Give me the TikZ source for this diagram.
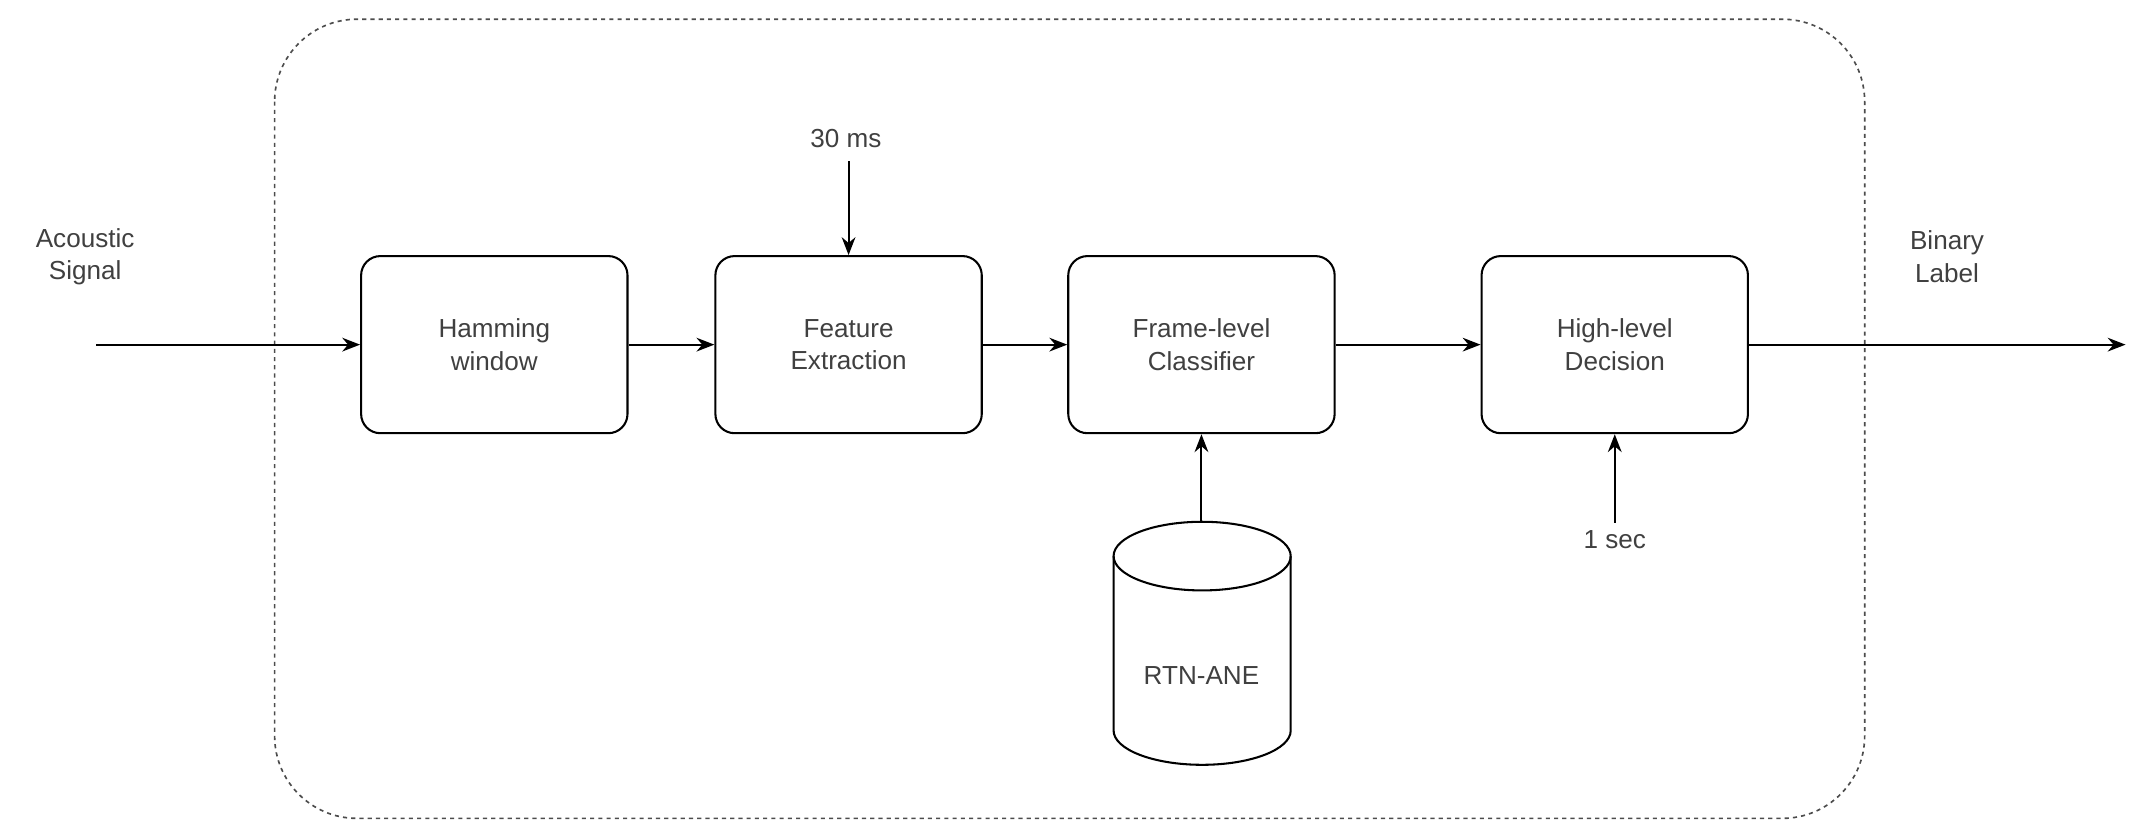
\documentclass[tikz,border=0pt]{standalone}
\usepackage{fontspec}
\setmainfont{Liberation Sans}
\usetikzlibrary{arrows.meta}
\begin{document}
\begin{tikzpicture}[x=1pt,y=-1pt,
  box/.style={draw,rounded corners=14pt,line width=1.5pt,minimum width=194pt,minimum height=129pt,align=center,text=black!75,font=\fontsize{19}{24}\selectfont},
  lbl/.style={align=center,text=black!75,font=\fontsize{19}{24}\selectfont},
  arr/.style={-{Stealth[length=13pt,width=10pt]},line width=1.5pt}]
\useasboundingbox (0,0) rectangle (1568,609);
\draw[dashed,line width=1.2pt,black!70,rounded corners=60pt] (200,14) rectangle (1358,596);
\node[box] (ham) at (360,251) {Hamming\\window};
\node[box] (fe) at (618,251) {Feature\\Extraction};
\node[box] (fl) at (875,251) {Frame-level\\Classifier};
\node[box] (hl) at (1176,251) {High-level\\Decision};
\coordinate (in) at (70,251);
\coordinate (out) at (1548,251);
\node[lbl] at (62,187) {Acoustic\\Signal};
\node[lbl] at (1418,187) {Binary\\Label};
\node[lbl] (ms) at (616,101) {30 ms};
\node[lbl] (sec) at (1176,393) {1 sec};
\draw[line width=1.5pt] (811,405) arc[start angle=180,end angle=360,x radius=64.5,y radius=25] -- (940,532) arc[start angle=0,end angle=180,x radius=64.5,y radius=25] -- cycle;
\draw[line width=1.5pt] (811,405) arc[start angle=180,end angle=0,x radius=64.5,y radius=25];
\node[lbl] (db) at (875,492) {RTN-ANE};
\coordinate (dbtop) at (875,380);
\draw[arr] (in) -- (ham.west);
\draw[arr] (ham) -- (fe);
\draw[arr] (fe) -- (fl);
\draw[arr] (fl) -- (hl);
\draw[arr] (hl.east) -- (out);
\draw[arr] (ms.south -| fe.north) ++(0,6) -- (fe.north);
\draw[arr] (dbtop) -- (fl.south);
\draw[arr] (sec.north) ++(0,-2) -- (hl.south);
\end{tikzpicture}
\end{document}
